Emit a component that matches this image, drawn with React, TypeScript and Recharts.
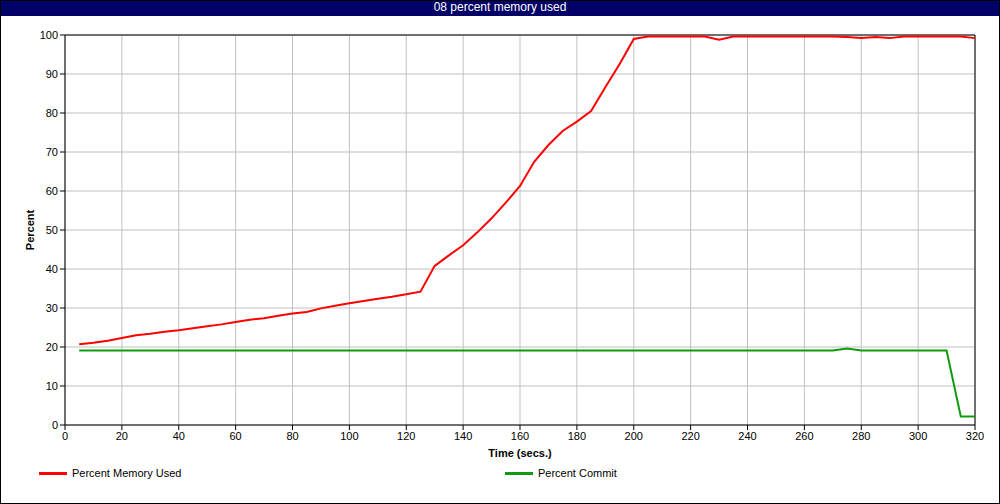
// Memory usage over time: percent memory used vs percent commit
import React from "react";
import {
  LineChart,
  Line,
  XAxis,
  YAxis,
  CartesianGrid,
  ReferenceLine,
} from "recharts";

const title = "08 percent memory used";

const times = [
  5, 10, 15, 20, 25, 30, 35, 40, 45, 50, 55, 60, 65, 70, 75, 80, 85, 90, 95, 100,
  105, 110, 115, 120, 125, 130, 135, 140, 145, 150, 155, 160, 165, 170, 175, 180,
  185, 190, 195, 200, 205, 210, 215, 220, 225, 230, 235, 240, 245, 250, 255, 260,
  265, 270, 275, 280, 285, 290, 295, 300, 305, 310, 315, 320,
];

const memoryUsed = [
  20.7, 21.1, 21.6, 22.3, 23.0, 23.4, 23.9, 24.3, 24.8, 25.3, 25.8, 26.4, 27.0,
  27.4, 28.0, 28.6, 29.0, 29.9, 30.6, 31.2, 31.8, 32.4, 32.9, 33.5, 34.2, 40.8,
  43.5, 46.1, 49.4, 53.0, 57.0, 61.3, 67.5, 71.8, 75.4, 77.8, 80.5, 86.6, 92.5,
  99.0, 99.6, 99.6, 99.6, 99.6, 99.6, 98.8, 99.6, 99.6, 99.6, 99.6, 99.6, 99.6,
  99.6, 99.6, 99.5, 99.2, 99.5, 99.2, 99.6, 99.6, 99.6, 99.6, 99.6, 99.2,
];

const commit = [
  19.1, 19.1, 19.1, 19.1, 19.1, 19.1, 19.1, 19.1, 19.1, 19.1, 19.1, 19.1, 19.1,
  19.1, 19.1, 19.1, 19.1, 19.1, 19.1, 19.1, 19.1, 19.1, 19.1, 19.1, 19.1, 19.1,
  19.1, 19.1, 19.1, 19.1, 19.1, 19.1, 19.1, 19.1, 19.1, 19.1, 19.1, 19.1, 19.1,
  19.1, 19.1, 19.1, 19.1, 19.1, 19.1, 19.1, 19.1, 19.1, 19.1, 19.1, 19.1, 19.1,
  19.1, 19.1, 19.6, 19.1, 19.1, 19.1, 19.1, 19.1, 19.1, 19.1, 2.2, 2.2,
];

const xTicks = [0, 20, 40, 60, 80, 100, 120, 140, 160, 180, 200, 220, 240, 260, 280, 300, 320];
const yTicks = [0, 10, 20, 30, 40, 50, 60, 70, 80, 90, 100];

const series = [
  { key: "memoryUsed", name: "Percent Memory Used", color: "#ff0000" },
  { key: "commit", name: "Percent Commit", color: "#109a10" },
];

const data = times.map((t, i) => ({
  t,
  memoryUsed: memoryUsed[i],
  commit: commit[i],
}));

const font = '"Liberation Sans", Arial, sans-serif';

export default function App() {
  return (
    <div
      style={{
        position: "absolute",
        left: 0,
        top: 0,
        width: 1000,
        height: 504,
        background: "#fff",
        fontFamily: font,
        overflow: "hidden",
      }}
    >
      <LineChart
        width={1000}
        height={504}
        data={data}
        margin={{ top: 35, right: 25, bottom: 49, left: 0 }}
        style={{ position: "absolute", left: 0, top: 0 }}
      >
        <CartesianGrid stroke="#c0c0c0" strokeWidth={1} />
        <XAxis
          type="number"
          dataKey="t"
          domain={[0, 320]}
          ticks={xTicks}
          interval={0}
          height={30}
          tickSize={5}
          tickMargin={2}
          tick={{ fill: "#000", fontSize: 11 }}
          tickLine={{ stroke: "#000" }}
          axisLine={{ stroke: "#000" }}
        />
        <YAxis
          type="number"
          domain={[0, 100]}
          ticks={yTicks}
          interval={0}
          width={65}
          tickSize={5}
          tickMargin={2}
          tick={{ fill: "#000", fontSize: 11 }}
          tickLine={{ stroke: "#000" }}
          axisLine={{ stroke: "#000" }}
        />
        <ReferenceLine y={100} stroke="#000" />
        <ReferenceLine x={320} stroke="#000" />
        {series.map((s) => (
          <Line
            key={s.key}
            type="linear"
            dataKey={s.key}
            name={s.name}
            stroke={s.color}
            strokeWidth={2}
            dot={false}
            activeDot={false}
            isAnimationActive={false}
          />
        ))}
      </LineChart>

      {/* title bar */}
      <div
        style={{
          position: "absolute",
          left: 0,
          top: 0,
          width: 1000,
          height: 16,
          background: "#000066",
          color: "#fff",
          fontSize: 12,
          lineHeight: "15px",
          textAlign: "center",
        }}
      >
        {title}
      </div>

      {/* axis titles */}
      <div
        style={{
          position: "absolute",
          left: 30,
          top: 230,
          transform: "translate(-50%, -50%) rotate(-90deg)",
          fontSize: 11,
          fontWeight: "bold",
          whiteSpace: "nowrap",
        }}
      >
        Percent
      </div>
      <div
        style={{
          position: "absolute",
          left: 520,
          top: 453,
          transform: "translate(-50%, -50%)",
          fontSize: 11,
          fontWeight: "bold",
          whiteSpace: "nowrap",
        }}
      >
        Time (secs.)
      </div>

      {/* legend */}
      {series.map((s, i) => (
        <div
          key={s.key}
          style={{
            position: "absolute",
            left: i === 0 ? 39 : 505,
            top: 466,
            height: 14,
            display: "flex",
            alignItems: "center",
            fontSize: 11,
            whiteSpace: "nowrap",
          }}
        >
          <span
            style={{
              display: "inline-block",
              width: 28,
              height: 3,
              background: s.color,
              marginRight: 5,
            }}
          />
          <span>{s.name}</span>
        </div>
      ))}

      {/* outer frame */}
      <div
        style={{
          position: "absolute",
          left: 0,
          top: 0,
          width: 1000,
          height: 504,
          boxSizing: "border-box",
          border: "1px solid #000",
          pointerEvents: "none",
        }}
      />
    </div>
  );
}
